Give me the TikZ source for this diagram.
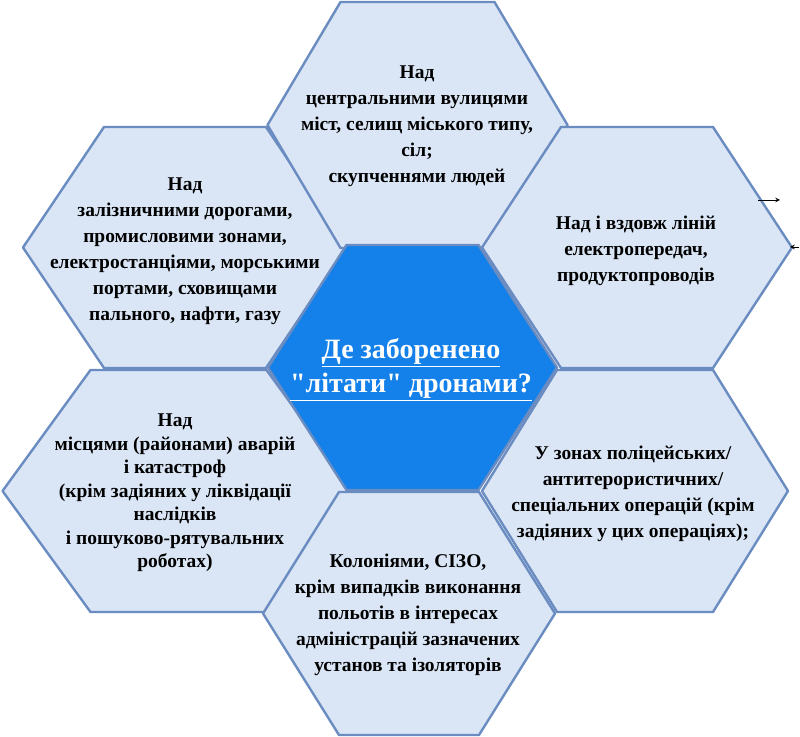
\documentclass[tikz,border=0pt]{standalone}
\usepackage{fontspec}
\setmainfont{Liberation Serif}[BoldFont={Liberation Serif Bold}, Ligatures=TeXOff]
\definecolor{cellfill}{RGB}{218,230,246}
\definecolor{celledge}{RGB}{106,140,192}
\definecolor{hubfill}{RGB}{20,128,234}
\tikzset{
  hexcell/.style={draw=celledge, line width=1.8pt, fill=cellfill, line join=round},
  hexhub/.style={hexcell, fill=hubfill},
  celltext/.style={align=center, text=black, font={\bfseries\fontsize{14.6}{19.5}\selectfont}},
  hubtext/.style={align=center, text=white, font={\bfseries\fontsize{21}{25.5}\selectfont}},
}
\begin{document}
\begin{tikzpicture}[x=0.75pt, y=-0.75pt]
\useasboundingbox (0,0) rectangle (800,737);
\foreach \cx/\cy/\w/\e/\h in {185/247.5/162/81/120.5, 417.5/125/150/77/123, 637/247.5/155/76/120.5,
    178.5/491/176/88/121, 635/491/153/78/121, 409/613.5/146/70/121.5}{
    \draw[hexcell] (\cx-\w,\cy) -- (\cx-\e,\cy-\h) -- (\cx+\e,\cy-\h) -- (\cx+\w,\cy)
        -- (\cx+\e,\cy+\h) -- (\cx-\e,\cy+\h) -- cycle;
}
\draw[hexhub] (268,367.5) -- (346.5,245) -- (478.5,245) -- (557,367.5) -- (478.5,490) -- (346.5,490) -- cycle;
\node[hubtext] (hub) at (411,370) {\underline{Де заборенено}\\\underline{"літати" дронами?}};
\node[celltext] (streets) at (417,126) {Над\\центральними вулицями\\міст, селищ міського типу,\\сіл;\\скупченнями людей};
\node[celltext] (rail) at (185,251) {Над\\залізничними дорогами,\\промисловими зонами,\\електростанціями, морськими\\портами, сховищами\\пального, нафти, газу};
\node[celltext] (power) at (636,251) {Над і вздовж ліній\\електропередач,\\продуктопроводів};
\node[celltext, font={\bfseries\fontsize{14.6}{17.6}\selectfont}] (crash) at (175,493) {Над\\місцями (районами) аварій\\і катастроф\\(крім задіяних у ліквідації\\наслідків\\і пошуково-рятувальних\\роботах)};
\node[celltext] (police) at (633,494) {У зонах поліцейських/\\антитерористичних/\\спеціальних операцій (крім\\задіяних у цих операціях);};
\node[celltext] (prison) at (408,615) {Колоніями, СІЗО,\\крім випадків виконання\\польотів в інтересах\\адміністрацій зазначених\\установ та ізоляторів};
\coordinate (tailA) at (758,200);
\coordinate (headA) at (780,200);
\coordinate (tailB) at (799,247);
\coordinate (headB) at (790,247);
\draw[->, >=stealth, semithick] (tailA) -- (headA);
\draw[->, >=stealth, semithick] (tailB) -- (headB);
\end{tikzpicture}
\end{document}
